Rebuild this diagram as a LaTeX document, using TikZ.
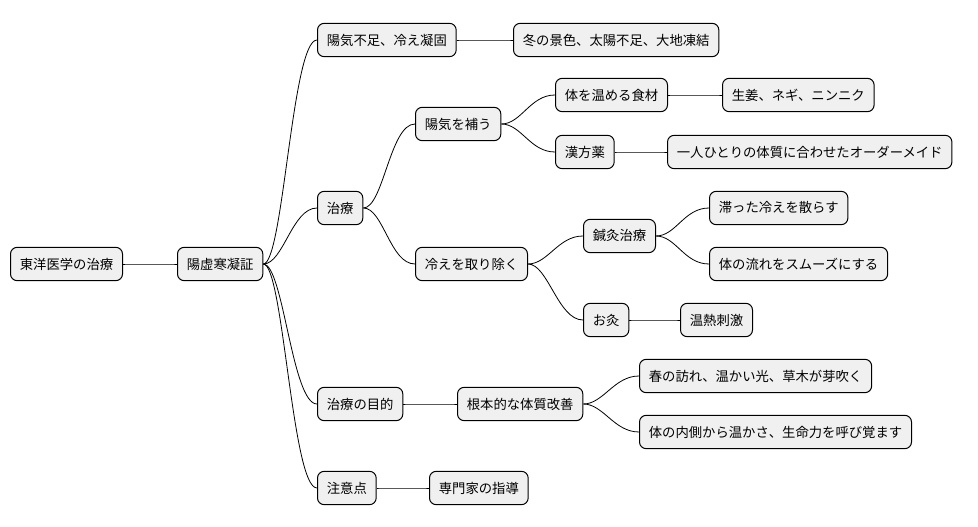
\documentclass[tikz,border=0pt]{standalone}
\usepackage{fontspec}
\setmainfont{Noto Sans CJK JP}
\begin{document}
\begin{tikzpicture}[x=0.75pt,y=-0.75pt,
  box/.style={draw=black,line width=0.75pt,fill=black!6,rounded corners=5pt,anchor=west,minimum height=25pt,inner xsep=7pt,font=\fontsize{10}{12}\selectfont},
  link/.style={line width=0.6pt}]
\useasboundingbox (0,0) rectangle (978,527);
\node[box] (r) at (10,264) {東洋医学の治療};
\node[box] (a) at (177,264) {陽虚寒凝証};
\node[box] (b1) at (317,40) {陽気不足、冷え凝固};
\node[box] (b1a) at (513,40) {冬の景色、太陽不足、大地凍結};
\node[box] (b2) at (317,208) {治療};
\node[box] (c1) at (415,124) {陽気を補う};
\node[box] (d1) at (555,95) {体を温める食材};
\node[box] (d1a) at (722,95) {生姜、ネギ、ニンニク};
\node[box] (d2) at (555,152) {漢方薬};
\node[box] (d2a) at (667,152) {一人ひとりの体質に合わせたオーダーメイド};
\node[box] (c2) at (415,264) {冷えを取り除く};
\node[box] (e1) at (583,236) {鍼灸治療};
\node[box] (e1a) at (709,208) {滞った冷えを散らす};
\node[box] (e1b) at (709,264) {体の流れをスムーズにする};
\node[box] (e2) at (583,320) {お灸};
\node[box] (e2a) at (680,320) {温熱刺激};
\node[box] (b3) at (317,404) {治療の目的};
\node[box] (f) at (457,404) {根本的な体質改善};
\node[box] (fa) at (639,376) {春の訪れ、温かい光、草木が芽吹く};
\node[box] (fb) at (639,432) {体の内側から温かさ、生命力を呼び覚ます};
\node[box] (b4) at (317,488) {注意点};
\node[box] (g) at (429,488) {専門家の指導};
\foreach \p/\c in {r/a,a/b1,b1/b1a,a/b2,b2/c1,b2/c2,c1/d1,c1/d2,d1/d1a,d2/d2a,c2/e1,c2/e2,e1/e1a,e1/e1b,e2/e2a,a/b3,b3/f,f/fa,f/fb,a/b4,b4/g}
  \draw[link] (\p.east) .. controls +(20,0) and +(-25,0) .. (\c.west);
\end{tikzpicture}
\end{document}
